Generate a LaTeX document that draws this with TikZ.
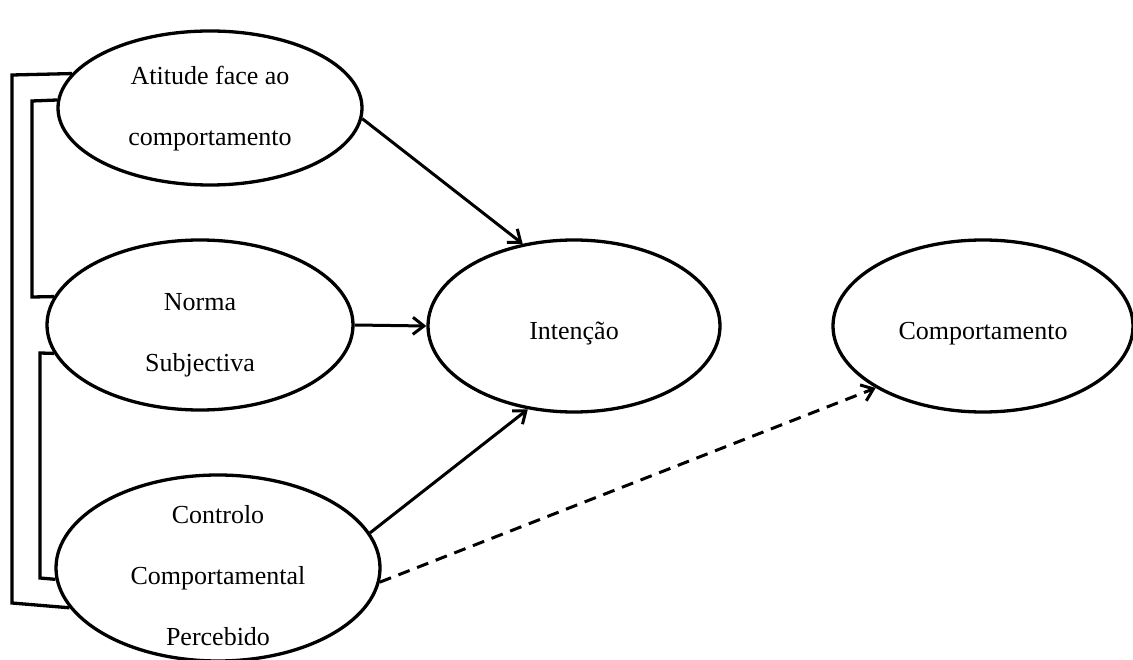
\documentclass[tikz,border=0pt]{standalone}
\usepackage{fontspec}
\setmainfont{Liberation Serif}
\usetikzlibrary{shapes.geometric,arrows.meta}
\newcommand\eltext[2]{\raisebox{#1}[0pt][0pt]{\begin{tabular}[t]{@{}c@{}}#2\end{tabular}}}
\begin{document}
\begin{tikzpicture}[x=1pt,y=-1pt,
  el/.style={draw,ellipse,line width=3.3pt,inner sep=0pt,
    font=\fontsize{26}{61}\selectfont},
  ln/.style={line width=3.3pt},
  arr/.style={line width=3pt,-{Straight Barb[length=11pt,width=17pt,line width=3pt]}}]
\useasboundingbox (0,0) rectangle (1133,660);
\node[el,minimum width=304pt,minimum height=154pt] (at) at (210,108) {\eltext{23pt}{Atitude face ao\\comportamento}};
\node[el,minimum width=306pt,minimum height=170pt] (no) at (200,325) {\eltext{14pt}{Norma\\Subjectiva}};
\node[el,minimum width=324pt,minimum height=186pt] (co) at (218,568) {\eltext{45pt}{Controlo\\Comportamental\\Percebido}};
\node[el,minimum width=292pt,minimum height=172pt] (in) at (574,326) {\eltext{-14pt}{Intenção}};
\node[el,minimum width=300pt,minimum height=172pt] (cp) at (983,326) {\eltext{-14pt}{Comportamento}};
% brackets
\draw[ln] (at.166) -- (12,75) -- (12,603) -- (co.195);
\draw[ln] (at.177) -- (32,101) -- (32,297) -- (no.169);
\draw[ln] (no.191) -- (40,353) -- (40,578) -- (co.184);
% arrows
\draw[arr] (at.-4) -- (in.122);
\draw[arr] (no.east) -- (in.west);
\draw[arr] (co.13) -- (in.-119);
\draw[arr,dash pattern=on 12pt off 8pt] (co.-5) -- (cp.210);
\end{tikzpicture}
\end{document}
